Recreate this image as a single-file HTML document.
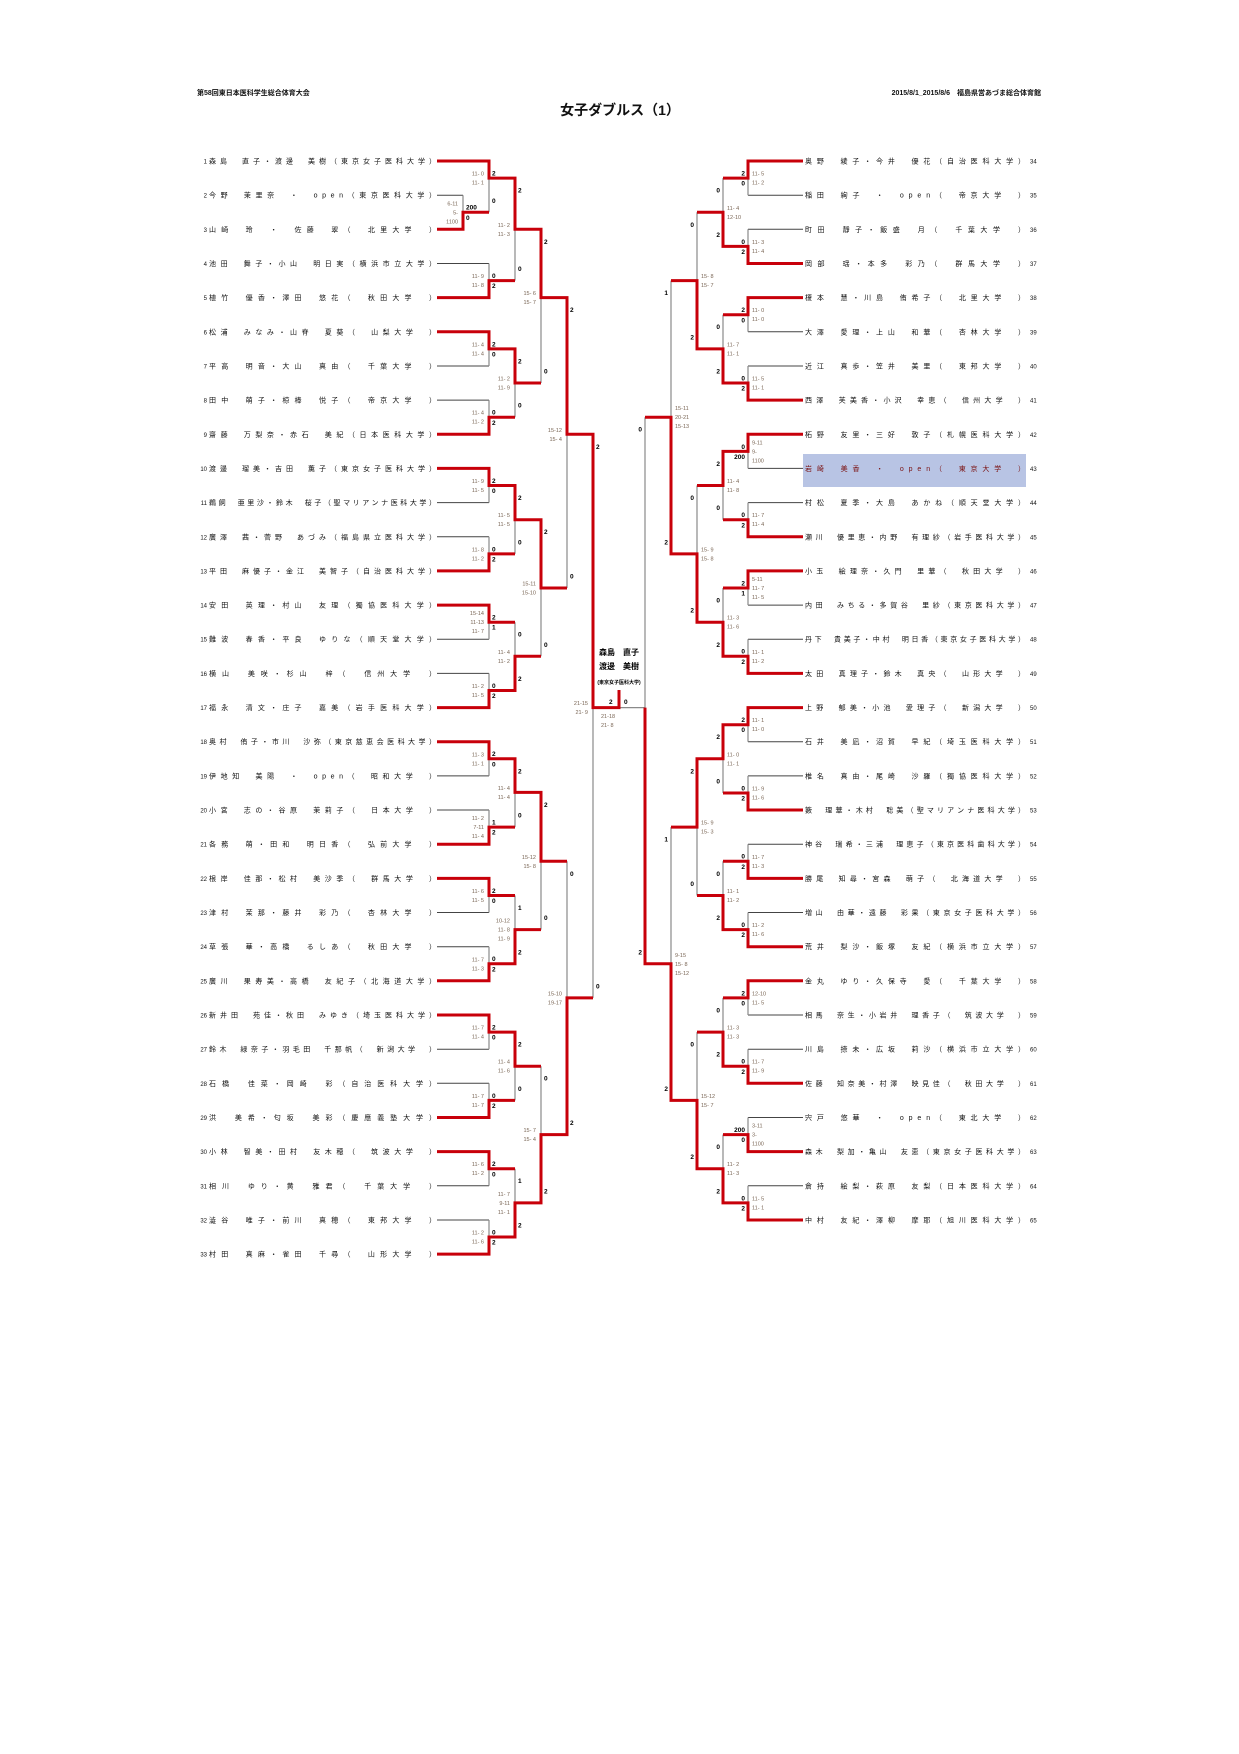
<!DOCTYPE html>
<html><head><meta charset="utf-8"><style>
html,body{margin:0;padding:0;background:#fff;}
svg{display:block;}
.n{font-family:"Liberation Sans","Noto Sans CJK JP",sans-serif;font-size:7px;fill:#111;}
.num{font-family:"Liberation Sans",sans-serif;font-size:6px;fill:#111;}
.s{font-family:"Liberation Sans",sans-serif;font-size:5.5px;fill:#7a6655;}
.c{font-family:"Liberation Sans",sans-serif;font-size:6.5px;font-weight:bold;fill:#000;}
.h{font-family:"Liberation Sans","Noto Sans CJK JP",sans-serif;font-size:7px;font-weight:bold;fill:#111;}
.g{stroke:#8a8a8a;stroke-width:1.2;fill:none;}
.d{stroke:#444;stroke-width:1;fill:none;}
.r{stroke:#c8000a;stroke-width:3;fill:none;stroke-linejoin:miter;}
</style></head><body>
<svg width="1239" height="1754" viewBox="0 0 1239 1754" xmlns="http://www.w3.org/2000/svg">
<text class="h" x="197" y="95">第58回東日本医科学生総合体育大会</text>
<text class="h" x="1041" y="95" text-anchor="end">2015/8/1_2015/8/6　福島県営あづま総合体育館</text>
<text x="620" y="115" text-anchor="middle" style="font-family:'Liberation Sans','Noto Sans CJK JP',sans-serif;font-size:14px;font-weight:bold;fill:#111">女子ダブルス（1）</text>

<rect x="803" y="454" width="223" height="33" fill="#b8c4e4"/>

<!-- grey loser entries left -->
<path class="d" d="M437 195.2H463 M437 263.5H489 M437 366H489 M437 400.1H489 M437 502.6H489 M437 536.8H489 M437 639.2H489 M437 673.4H489 M437 775.9H489 M437 810H489 M437 912.5H489 M437 946.7H489 M437 1049.2H489 M437 1083.3H489 M437 1185.8H489 M437 1220H489"/>
<!-- grey verticals left -->
<path class="g" d="M463 195.2V229.3 M489 161V212.3 M489 263.5V297.6 M489 331.8V366 M489 400.1V434.3 M489 468.4V502.6 M489 536.8V570.9 M489 605.1V639.2 M489 673.4V707.6 M489 741.7V775.9 M489 810V844.2 M489 878.4V912.5 M489 946.7V980.8 M489 1015V1049.2 M489 1083.3V1117.5 M489 1151.6V1185.8 M489 1220V1254.1
M515 178.1V280.6 M515 348.9V417.2 M515 485.5V553.9 M515 622.2V690.5 M515 758.8V827.1 M515 895.5V963.8 M515 1032.1V1100.4 M515 1168.7V1237
M541 229.3V383 M541 519.7V656.3 M541 792.4V929.6 M541 1066.2V1202.9 M567 297.6V588 M567 861.3V1134.6 M593 434.3V997.9 M593 707.6H645"/>
<!-- grey loser entries right -->
<path class="d" d="M803 195.2H748 M803 229.3H748 M803 331.8H748 M803 366H748 M803 468.4H748 M803 502.6H748 M803 605.1H748 M803 639.2H748 M803 741.7H748 M803 775.9H748 M803 844.2H748 M803 912.5H748 M803 1015H748 M803 1049.2H748 M803 1117.5H748 M803 1185.8H748"/>
<path class="g" d="M748 161V195.2 M748 229.3V263.5 M748 297.6V331.8 M748 366V400.1 M748 434.3V468.4 M748 502.6V536.8 M748 570.9V605.1 M748 639.2V673.4 M748 707.6V741.7 M748 775.9V810 M748 844.2V878.4 M748 912.5V946.7 M748 980.8V1015 M748 1049.2V1083.3 M748 1117.5V1151.6 M748 1185.8V1220
M723 178.1V246.4 M723 314.7V383 M723 451.4V519.7 M723 588V656.3 M723 724.7V793 M723 861.3V929.6 M723 997.9V1066.2 M723 1134.6V1202.9
M697 212.3V348.9 M697 485.5V622.2 M697 758.8V895.5 M697 1032.1V1168.7 M671 280.6V553.9 M671 827.1V1100.4 M645 417.2V963.8"/>

<!-- red paths left -->
<polyline class="r" points="437,161 489,161 489,178.1 515,178.1 515,229.3 541,229.3 541,297.6 567,297.6 567,434.3 593,434.3 593,707.6 619,707.6 619,690"/>
<polyline class="r" points="437,229.3 463,229.3 463,212.3 489,212.3"/>
<polyline class="r" points="437,297.6 489,297.6 489,280.6 515,280.6"/>
<polyline class="r" points="437,331.8 489,331.8 489,348.9 515,348.9 515,383 541,383"/>
<polyline class="r" points="437,434.3 489,434.3 489,417.2 515,417.2"/>
<polyline class="r" points="437,468.4 489,468.4 489,485.5 515,485.5 515,519.7 541,519.7 541,588 567,588"/>
<polyline class="r" points="437,570.9 489,570.9 489,553.9 515,553.9"/>
<polyline class="r" points="437,605.1 489,605.1 489,622.2 515,622.2"/>
<polyline class="r" points="437,707.6 489,707.6 489,690.5 515,690.5 515,656.3 541,656.3"/>
<polyline class="r" points="437,741.7 489,741.7 489,758.8 515,758.8 515,792.4 541,792.4 541,861.3 567,861.3"/>
<polyline class="r" points="437,844.2 489,844.2 489,827.1 515,827.1"/>
<polyline class="r" points="437,878.4 489,878.4 489,895.5 515,895.5"/>
<polyline class="r" points="437,980.8 489,980.8 489,963.8 515,963.8 515,929.6 541,929.6"/>
<polyline class="r" points="437,1015 489,1015 489,1032.1 515,1032.1 515,1066.2 541,1066.2"/>
<polyline class="r" points="437,1117.5 489,1117.5 489,1100.4 515,1100.4"/>
<polyline class="r" points="437,1151.6 489,1151.6 489,1168.7 515,1168.7"/>
<polyline class="r" points="437,1254.1 489,1254.1 489,1237 515,1237 515,1202.9 541,1202.9 541,1134.6 567,1134.6 567,997.9 593,997.9"/>
<!-- red paths right -->
<polyline class="r" points="803,161 748,161 748,178.1 723,178.1"/>
<polyline class="r" points="803,263.5 748,263.5 748,246.4 723,246.4 723,212.3 697,212.3"/>
<polyline class="r" points="803,297.6 748,297.6 748,314.7 723,314.7"/>
<polyline class="r" points="803,400.1 748,400.1 748,383 723,383 723,348.9 697,348.9 697,280.6 671,280.6"/>
<polyline class="r" points="803,434.3 748,434.3 748,451.4 723,451.4 723,485.5 697,485.5"/>
<polyline class="r" points="803,536.8 748,536.8 748,519.7 723,519.7"/>
<polyline class="r" points="803,570.9 748,570.9 748,588 723,588"/>
<polyline class="r" points="803,673.4 748,673.4 748,656.3 723,656.3 723,622.2 697,622.2 697,553.9 671,553.9 671,417.2 645,417.2"/>
<polyline class="r" points="803,707.6 748,707.6 748,724.7 723,724.7 723,758.8 697,758.8 697,827.1 671,827.1"/>
<polyline class="r" points="803,810 748,810 748,793 723,793"/>
<polyline class="r" points="803,878.4 748,878.4 748,861.3 723,861.3"/>
<polyline class="r" points="803,946.7 748,946.7 748,929.6 723,929.6 723,895.5 697,895.5"/>
<polyline class="r" points="803,980.8 748,980.8 748,997.9 723,997.9"/>
<polyline class="r" points="803,1083.3 748,1083.3 748,1066.2 723,1066.2 723,1032.1 697,1032.1"/>
<polyline class="r" points="803,1151.6 748,1151.6 748,1134.6 723,1134.6"/>
<polyline class="r" points="803,1220 748,1220 748,1202.9 723,1202.9 723,1168.7 697,1168.7 697,1100.4 671,1100.4 671,963.8 645,963.8 645,707.6"/>

<!-- left names -->
<g class="num" text-anchor="end">
<text x="207" y="163.5">1</text><text x="207" y="197.7">2</text><text x="207" y="231.8">3</text><text x="207" y="266">4</text><text x="207" y="300.1">5</text><text x="207" y="334.3">6</text><text x="207" y="368.5">7</text><text x="207" y="402.6">8</text><text x="207" y="436.8">9</text><text x="207" y="470.9">10</text><text x="207" y="505.1">11</text><text x="207" y="539.3">12</text><text x="207" y="573.4">13</text><text x="207" y="607.6">14</text><text x="207" y="641.7">15</text><text x="207" y="675.9">16</text><text x="207" y="710.1">17</text><text x="207" y="744.2">18</text><text x="207" y="778.4">19</text><text x="207" y="812.5">20</text><text x="207" y="846.7">21</text><text x="207" y="880.9">22</text><text x="207" y="915">23</text><text x="207" y="949.2">24</text><text x="207" y="983.3">25</text><text x="207" y="1017.5">26</text><text x="207" y="1051.7">27</text><text x="207" y="1085.8">28</text><text x="207" y="1120">29</text><text x="207" y="1154.1">30</text><text x="207" y="1188.3">31</text><text x="207" y="1222.5">32</text><text x="207" y="1256.6">33</text>
</g>
<g class="n">
<text x="209" y="163.5" textLength="227" lengthAdjust="spacing">森島　直子・渡邊　美樹（東京女子医科大学）</text>
<text x="209" y="197.7" textLength="227" lengthAdjust="spacing">今野　茉里奈　・　open（東京医科大学）</text>
<text x="209" y="231.8" textLength="227" lengthAdjust="spacing">山崎　玲　・　佐藤　翠（　北里大学　）</text>
<text x="209" y="266" textLength="227" lengthAdjust="spacing">池田　舞子・小山　明日実（横浜市立大学）</text>
<text x="209" y="300.1" textLength="227" lengthAdjust="spacing">植竹　優香・澤田　悠花（　秋田大学　）</text>
<text x="209" y="334.3" textLength="227" lengthAdjust="spacing">松浦　みなみ・山脊　夏葵（　山梨大学　）</text>
<text x="209" y="368.5" textLength="227" lengthAdjust="spacing">平高　明音・大山　真由（　千葉大学　）</text>
<text x="209" y="402.6" textLength="227" lengthAdjust="spacing">田中　萌子・椋棒　悦子（　帝京大学　）</text>
<text x="209" y="436.8" textLength="227" lengthAdjust="spacing">齋藤　万梨奈・赤石　美紀（日本医科大学）</text>
<text x="209" y="470.9" textLength="227" lengthAdjust="spacing">渡邊　瑠美・吉田　薫子（東京女子医科大学）</text>
<text x="209" y="505.1" textLength="227" lengthAdjust="spacing">鵜飼　亜里沙・鈴木　桜子（聖マリアンナ医科大学）</text>
<text x="209" y="539.3" textLength="227" lengthAdjust="spacing">廣澤　茜・菅野　あづみ（福島県立医科大学）</text>
<text x="209" y="573.4" textLength="227" lengthAdjust="spacing">平田　麻優子・金江　美智子（自治医科大学）</text>
<text x="209" y="607.6" textLength="227" lengthAdjust="spacing">安田　英理・村山　友理（獨協医科大学）</text>
<text x="209" y="641.7" textLength="227" lengthAdjust="spacing">難波　春香・平良　ゆりな（順天堂大学）</text>
<text x="209" y="675.9" textLength="227" lengthAdjust="spacing">横山　美咲・杉山　梓（　信州大学　）</text>
<text x="209" y="710.1" textLength="227" lengthAdjust="spacing">福永　清文・庄子　嘉美（岩手医科大学）</text>
<text x="209" y="744.2" textLength="227" lengthAdjust="spacing">奥村　侑子・市川　沙弥（東京慈恵会医科大学）</text>
<text x="209" y="778.4" textLength="227" lengthAdjust="spacing">伊地知　美陽　・　open（　昭和大学　）</text>
<text x="209" y="812.5" textLength="227" lengthAdjust="spacing">小宮　志の・谷原　茉莉子（　日本大学　）</text>
<text x="209" y="846.7" textLength="227" lengthAdjust="spacing">各務　萌・田和　明日香（　弘前大学　）</text>
<text x="209" y="880.9" textLength="227" lengthAdjust="spacing">根岸　佳那・松村　美沙季（　群馬大学　）</text>
<text x="209" y="915" textLength="227" lengthAdjust="spacing">津村　茉那・藤井　彩乃（　杏林大学　）</text>
<text x="209" y="949.2" textLength="227" lengthAdjust="spacing">草張　華・高橋　るしあ（　秋田大学　）</text>
<text x="209" y="983.3" textLength="227" lengthAdjust="spacing">廣川　果寿美・高橋　友紀子（北海道大学）</text>
<text x="209" y="1017.5" textLength="227" lengthAdjust="spacing">新井田　苑佳・秋田　みゆき（埼玉医科大学）</text>
<text x="209" y="1051.7" textLength="227" lengthAdjust="spacing">鈴木　緑奈子・羽毛田　千那帆（　新潟大学　）</text>
<text x="209" y="1085.8" textLength="227" lengthAdjust="spacing">石橋　佳菜・岡崎　彩（自治医科大学）</text>
<text x="209" y="1120" textLength="227" lengthAdjust="spacing">洪　美希・匂坂　美彩（慶應義塾大学）</text>
<text x="209" y="1154.1" textLength="227" lengthAdjust="spacing">小林　智美・田村　友木穂（　筑波大学　）</text>
<text x="209" y="1188.3" textLength="227" lengthAdjust="spacing">相川　ゆり・黄　雅君（　千葉大学　）</text>
<text x="209" y="1222.5" textLength="227" lengthAdjust="spacing">澁谷　唯子・前川　真穂（　東邦大学　）</text>
<text x="209" y="1256.6" textLength="227" lengthAdjust="spacing">村田　真麻・雀田　千尋（　山形大学　）</text>
</g>
<!-- right names -->
<g class="n">
<text x="805" y="163.5" textLength="220" lengthAdjust="spacing">奥野　綾子・今井　優花（自治医科大学）</text>
<text x="805" y="197.7" textLength="220" lengthAdjust="spacing">稲田　絢子　・　open（　帝京大学　）</text>
<text x="805" y="231.8" textLength="220" lengthAdjust="spacing">町田　靜子・飯盛　月（　千葉大学　）</text>
<text x="805" y="266" textLength="220" lengthAdjust="spacing">岡部　瑶・本多　彩乃（　群馬大学　）</text>
<text x="805" y="300.1" textLength="220" lengthAdjust="spacing">榎本　慧・川島　侑希子（　北里大学　）</text>
<text x="805" y="334.3" textLength="220" lengthAdjust="spacing">大澤　愛理・上山　和華（　杏林大学　）</text>
<text x="805" y="368.5" textLength="220" lengthAdjust="spacing">近江　真歩・笠井　美里（　東邦大学　）</text>
<text x="805" y="402.6" textLength="220" lengthAdjust="spacing">西澤　芙美香・小沢　幸恵（　信州大学　）</text>
<text x="805" y="436.8" textLength="220" lengthAdjust="spacing">柘野　友里・三好　敦子（札幌医科大学）</text>
<text x="805" y="470.9" textLength="220" lengthAdjust="spacing" style="fill:#7a1010">岩崎　美香　・　open（　東京大学　）</text>
<text x="805" y="505.1" textLength="220" lengthAdjust="spacing">村松　夏季・大島　あかね（順天堂大学）</text>
<text x="805" y="539.3" textLength="220" lengthAdjust="spacing">瀬川　優里恵・内野　有理紗（岩手医科大学）</text>
<text x="805" y="573.4" textLength="220" lengthAdjust="spacing">小玉　絵理奈・久門　里華（　秋田大学　）</text>
<text x="805" y="607.6" textLength="220" lengthAdjust="spacing">内田　みちる・多賀谷　里紗（東京医科大学）</text>
<text x="805" y="641.7" textLength="220" lengthAdjust="spacing">丹下　貴美子・中村　明日香（東京女子医科大学）</text>
<text x="805" y="675.9" textLength="220" lengthAdjust="spacing">太田　真理子・鈴木　真央（　山形大学　）</text>
<text x="805" y="710.1" textLength="220" lengthAdjust="spacing">上野　郁美・小池　愛理子（　新潟大学　）</text>
<text x="805" y="744.2" textLength="220" lengthAdjust="spacing">石井　美凪・沼賀　早紀（埼玉医科大学）</text>
<text x="805" y="778.4" textLength="220" lengthAdjust="spacing">椎名　真由・尾崎　沙羅（獨協医科大学）</text>
<text x="805" y="812.5" textLength="220" lengthAdjust="spacing">籔　理華・木村　聡美（聖マリアンナ医科大学）</text>
<text x="805" y="846.7" textLength="220" lengthAdjust="spacing">神谷　瑞希・三浦　理恵子（東京医科歯科大学）</text>
<text x="805" y="880.9" textLength="220" lengthAdjust="spacing">勝尾　知尋・宮森　萌子（　北海道大学　）</text>
<text x="805" y="915" textLength="220" lengthAdjust="spacing">増山　由華・遠藤　彩果（東京女子医科大学）</text>
<text x="805" y="949.2" textLength="220" lengthAdjust="spacing">荒井　梨沙・飯塚　友紀（横浜市立大学）</text>
<text x="805" y="983.3" textLength="220" lengthAdjust="spacing">金丸　ゆり・久保寺　愛（　千葉大学　）</text>
<text x="805" y="1017.5" textLength="220" lengthAdjust="spacing">相馬　奈生・小岩井　理香子（　筑波大学　）</text>
<text x="805" y="1051.7" textLength="220" lengthAdjust="spacing">川島　捺未・広坂　莉沙（横浜市立大学）</text>
<text x="805" y="1085.8" textLength="220" lengthAdjust="spacing">佐藤　知奈美・村澤　映見佳（　秋田大学　）</text>
<text x="805" y="1120" textLength="220" lengthAdjust="spacing">宍戸　悠華　・　open（　東北大学　）</text>
<text x="805" y="1154.1" textLength="220" lengthAdjust="spacing">森木　梨加・亀山　友恵（東京女子医科大学）</text>
<text x="805" y="1188.3" textLength="220" lengthAdjust="spacing">倉持　絵梨・萩原　友梨（日本医科大学）</text>
<text x="805" y="1222.5" textLength="220" lengthAdjust="spacing">中村　友紀・澤柳　摩耶（旭川医科大学）</text>
</g>
<g class="num">
<text x="1030" y="163.5">34</text><text x="1030" y="197.7">35</text><text x="1030" y="231.8">36</text><text x="1030" y="266">37</text><text x="1030" y="300.1">38</text><text x="1030" y="334.3">39</text><text x="1030" y="368.5">40</text><text x="1030" y="402.6">41</text><text x="1030" y="436.8">42</text><text x="1030" y="470.9">43</text><text x="1030" y="505.1">44</text><text x="1030" y="539.3">45</text><text x="1030" y="573.4">46</text><text x="1030" y="607.6">47</text><text x="1030" y="641.7">48</text><text x="1030" y="675.9">49</text><text x="1030" y="710.1">50</text><text x="1030" y="744.2">51</text><text x="1030" y="778.4">52</text><text x="1030" y="812.5">53</text><text x="1030" y="846.7">54</text><text x="1030" y="880.9">55</text><text x="1030" y="915">56</text><text x="1030" y="949.2">57</text><text x="1030" y="983.3">58</text><text x="1030" y="1017.5">59</text><text x="1030" y="1051.7">60</text><text x="1030" y="1085.8">61</text><text x="1030" y="1120">62</text><text x="1030" y="1154.1">63</text><text x="1030" y="1188.3">64</text><text x="1030" y="1222.5">65</text>
</g>

<!-- left scores -->
<g class="s" text-anchor="end">
<text x="458" y="205.3">6-11</text><text x="458" y="214.3">5-</text><text x="458" y="223.3">1100</text>
<text x="484" y="175.6">11- 0</text><text x="484" y="184.6">11- 1</text>
<text x="484" y="278.1">11- 9</text><text x="484" y="287.1">11- 8</text>
<text x="484" y="346.4">11- 4</text><text x="484" y="355.4">11- 4</text>
<text x="484" y="414.7">11- 4</text><text x="484" y="423.7">11- 2</text>
<text x="484" y="483">11- 9</text><text x="484" y="492">11- 5</text>
<text x="484" y="551.4">11- 8</text><text x="484" y="560.4">11- 2</text>
<text x="484" y="615.2">15-14</text><text x="484" y="624.2">11-13</text><text x="484" y="633.2">11- 7</text>
<text x="484" y="688">11- 2</text><text x="484" y="697">11- 5</text>
<text x="484" y="756.3">11- 3</text><text x="484" y="765.3">11- 1</text>
<text x="484" y="820.1">11- 2</text><text x="484" y="829.1">7-11</text><text x="484" y="838.1">11- 4</text>
<text x="484" y="893">11- 6</text><text x="484" y="902">11- 5</text>
<text x="484" y="961.3">11- 7</text><text x="484" y="970.3">11- 3</text>
<text x="484" y="1029.6">11- 7</text><text x="484" y="1038.6">11- 4</text>
<text x="484" y="1097.9">11- 7</text><text x="484" y="1106.9">11- 7</text>
<text x="484" y="1166.2">11- 6</text><text x="484" y="1175.2">11- 2</text>
<text x="484" y="1234.5">11- 2</text><text x="484" y="1243.5">11- 6</text>
<text x="510" y="226.8">11- 2</text><text x="510" y="235.8">11- 3</text>
<text x="510" y="380.5">11- 2</text><text x="510" y="389.5">11- 9</text>
<text x="510" y="517.2">11- 5</text><text x="510" y="526.2">11- 5</text>
<text x="510" y="653.8">11- 4</text><text x="510" y="662.8">11- 2</text>
<text x="510" y="789.9">11- 4</text><text x="510" y="798.9">11- 4</text>
<text x="510" y="922.6">10-12</text><text x="510" y="931.6">11- 8</text><text x="510" y="940.6">11- 9</text>
<text x="510" y="1063.7">11- 4</text><text x="510" y="1072.7">11- 6</text>
<text x="510" y="1195.9">11- 7</text><text x="510" y="1204.9">9-11</text><text x="510" y="1213.9">11- 1</text>
<text x="536" y="295.1">15- 6</text><text x="536" y="304.1">15- 7</text>
<text x="536" y="585.5">15-11</text><text x="536" y="594.5">15-10</text>
<text x="536" y="858.8">15-12</text><text x="536" y="867.8">15- 8</text>
<text x="536" y="1132.1">15- 7</text><text x="536" y="1141.1">15- 4</text>
<text x="562" y="431.8">15-12</text><text x="562" y="440.8">15- 4</text>
<text x="562" y="995.4">15-10</text><text x="562" y="1004.4">19-17</text>
<text x="588" y="705.1">21-15</text><text x="588" y="714.1">21- 9</text>
</g>
<!-- left counts -->
<g class="c">
<text x="466" y="209.7">200</text><text x="466" y="219.8">0</text>
<text x="492" y="175.5">2</text><text x="492" y="202.8">0</text>
<text x="492" y="278">0</text><text x="492" y="288.1">2</text>
<text x="492" y="346.3">2</text><text x="492" y="356.5">0</text>
<text x="492" y="414.6">0</text><text x="492" y="424.8">2</text>
<text x="492" y="482.9">2</text><text x="492" y="493.1">0</text>
<text x="492" y="551.3">0</text><text x="492" y="561.4">2</text>
<text x="492" y="619.6">2</text><text x="492" y="629.7">1</text>
<text x="492" y="687.9">0</text><text x="492" y="698.1">2</text>
<text x="492" y="756.2">2</text><text x="492" y="766.4">0</text>
<text x="492" y="824.5">1</text><text x="492" y="834.7">2</text>
<text x="492" y="892.9">2</text><text x="492" y="903">0</text>
<text x="492" y="961.2">0</text><text x="492" y="971.3">2</text>
<text x="492" y="1029.5">2</text><text x="492" y="1039.7">0</text>
<text x="492" y="1097.8">0</text><text x="492" y="1108">2</text>
<text x="492" y="1166.1">2</text><text x="492" y="1176.3">0</text>
<text x="492" y="1234.5">0</text><text x="492" y="1244.6">2</text>
<text x="518" y="192.6">2</text><text x="518" y="271.1">0</text>
<text x="518" y="363.4">2</text><text x="518" y="407.7">0</text>
<text x="518" y="500">2</text><text x="518" y="544.4">0</text>
<text x="518" y="636.7">0</text><text x="518" y="681">2</text>
<text x="518" y="773.3">2</text><text x="518" y="817.6">0</text>
<text x="518" y="910">1</text><text x="518" y="954.3">2</text>
<text x="518" y="1046.6">2</text><text x="518" y="1090.9">0</text>
<text x="518" y="1183.2">1</text><text x="518" y="1227.5">2</text>
<text x="544" y="243.8">2</text><text x="544" y="373.5">0</text>
<text x="544" y="534.2">2</text><text x="544" y="646.8">0</text>
<text x="544" y="806.9">2</text><text x="544" y="920.1">0</text>
<text x="544" y="1080.7">0</text><text x="544" y="1193.4">2</text>
<text x="570" y="312.1">2</text><text x="570" y="578.5">0</text>
<text x="570" y="875.8">0</text><text x="570" y="1125.1">2</text>
<text x="596" y="448.8">2</text><text x="596" y="988.4">0</text>
<text x="609" y="704">2</text><text x="624" y="704">0</text>
</g>
<g class="s"><text x="601" y="718">21-18</text><text x="601" y="727">21- 8</text></g>
<!-- champion -->
<g style="font-family:'Liberation Sans','Noto Sans CJK JP',sans-serif;font-weight:bold;fill:#000" text-anchor="middle">
<text x="619" y="655" font-size="8">森島　直子</text>
<text x="619" y="669" font-size="8">渡邊　美樹</text>
<text x="619" y="684" font-size="5">(東京女子医科大学)</text>
</g>

<!-- right scores -->
<g class="s">
<text x="752" y="175.6">11- 5</text><text x="752" y="184.6">11- 2</text>
<text x="752" y="243.9">11- 3</text><text x="752" y="252.9">11- 4</text>
<text x="752" y="312.2">11- 0</text><text x="752" y="321.2">11- 0</text>
<text x="752" y="380.5">11- 5</text><text x="752" y="389.5">11- 1</text>
<text x="752" y="444.4">9-11</text><text x="752" y="453.4">9-</text><text x="752" y="462.4">1100</text>
<text x="752" y="517.2">11- 7</text><text x="752" y="526.2">11- 4</text>
<text x="752" y="581">5-11</text><text x="752" y="590">11- 7</text><text x="752" y="599">11- 5</text>
<text x="752" y="653.8">11- 1</text><text x="752" y="662.8">11- 2</text>
<text x="752" y="722.2">11- 1</text><text x="752" y="731.2">11- 0</text>
<text x="752" y="790.5">11- 9</text><text x="752" y="799.5">11- 6</text>
<text x="752" y="858.8">11- 7</text><text x="752" y="867.8">11- 3</text>
<text x="752" y="927.1">11- 2</text><text x="752" y="936.1">11- 6</text>
<text x="752" y="995.4">12-10</text><text x="752" y="1004.4">11- 5</text>
<text x="752" y="1063.7">11- 7</text><text x="752" y="1072.7">11- 9</text>
<text x="752" y="1127.6">3-11</text><text x="752" y="1136.6">3-</text><text x="752" y="1145.6">1100</text>
<text x="752" y="1200.4">11- 5</text><text x="752" y="1209.4">11- 1</text>
<text x="727" y="209.8">11- 4</text><text x="727" y="218.8">12-10</text>
<text x="727" y="346.4">11- 7</text><text x="727" y="355.4">11- 1</text>
<text x="727" y="483">11- 4</text><text x="727" y="492">11- 8</text>
<text x="727" y="619.7">11- 3</text><text x="727" y="628.7">11- 6</text>
<text x="727" y="756.3">11- 0</text><text x="727" y="765.3">11- 1</text>
<text x="727" y="893">11- 1</text><text x="727" y="902">11- 2</text>
<text x="727" y="1029.6">11- 3</text><text x="727" y="1038.6">11- 3</text>
<text x="727" y="1166.2">11- 2</text><text x="727" y="1175.2">11- 3</text>
<text x="701" y="278.1">15- 8</text><text x="701" y="287.1">15- 7</text>
<text x="701" y="551.4">15- 9</text><text x="701" y="560.4">15- 8</text>
<text x="701" y="824.6">15- 9</text><text x="701" y="833.6">15- 3</text>
<text x="701" y="1097.9">15-12</text><text x="701" y="1106.9">15- 7</text>
<text x="675" y="410.2">15-11</text><text x="675" y="419.2">20-21</text><text x="675" y="428.2">15-13</text>
<text x="675" y="956.8">9-15</text><text x="675" y="965.8">15- 8</text><text x="675" y="974.8">15-12</text>
</g>
<!-- right counts -->
<g class="c" text-anchor="end">
<text x="745" y="175.5">2</text><text x="745" y="185.7">0</text>
<text x="745" y="243.8">0</text><text x="745" y="254">2</text>
<text x="745" y="312.1">2</text><text x="745" y="322.3">0</text>
<text x="745" y="380.5">0</text><text x="745" y="390.6">2</text>
<text x="745" y="448.8">0</text><text x="745" y="458.9">200</text>
<text x="745" y="517.1">0</text><text x="745" y="527.3">2</text>
<text x="745" y="585.4">2</text><text x="745" y="595.6">1</text>
<text x="745" y="653.7">0</text><text x="745" y="663.9">2</text>
<text x="745" y="722.1">2</text><text x="745" y="732.2">0</text>
<text x="745" y="790.4">0</text><text x="745" y="800.5">2</text>
<text x="745" y="858.7">0</text><text x="745" y="868.9">2</text>
<text x="745" y="927">0</text><text x="745" y="937.2">2</text>
<text x="745" y="995.3">2</text><text x="745" y="1005.5">0</text>
<text x="745" y="1063.7">0</text><text x="745" y="1073.8">2</text>
<text x="745" y="1132">200</text><text x="745" y="1142.1">0</text>
<text x="745" y="1200.3">0</text><text x="745" y="1210.5">2</text>
<text x="720" y="192.6">0</text><text x="720" y="236.9">2</text>
<text x="720" y="329.2">0</text><text x="720" y="373.5">2</text>
<text x="720" y="465.9">2</text><text x="720" y="510.2">0</text>
<text x="720" y="602.5">0</text><text x="720" y="646.8">2</text>
<text x="720" y="739.2">2</text><text x="720" y="783.5">0</text>
<text x="720" y="875.8">0</text><text x="720" y="920.1">2</text>
<text x="720" y="1012.4">0</text><text x="720" y="1056.7">2</text>
<text x="720" y="1149.1">0</text><text x="720" y="1193.4">2</text>
<text x="694" y="226.8">0</text><text x="694" y="339.4">2</text>
<text x="694" y="500">0</text><text x="694" y="612.7">2</text>
<text x="694" y="773.3">2</text><text x="694" y="886">0</text>
<text x="694" y="1046.6">0</text><text x="694" y="1159.2">2</text>
<text x="668" y="295.1">1</text><text x="668" y="544.4">2</text>
<text x="668" y="841.6">1</text><text x="668" y="1090.9">2</text>
<text x="642" y="431.7">0</text><text x="642" y="954.3">2</text>
</g>
</svg>
</body></html>
